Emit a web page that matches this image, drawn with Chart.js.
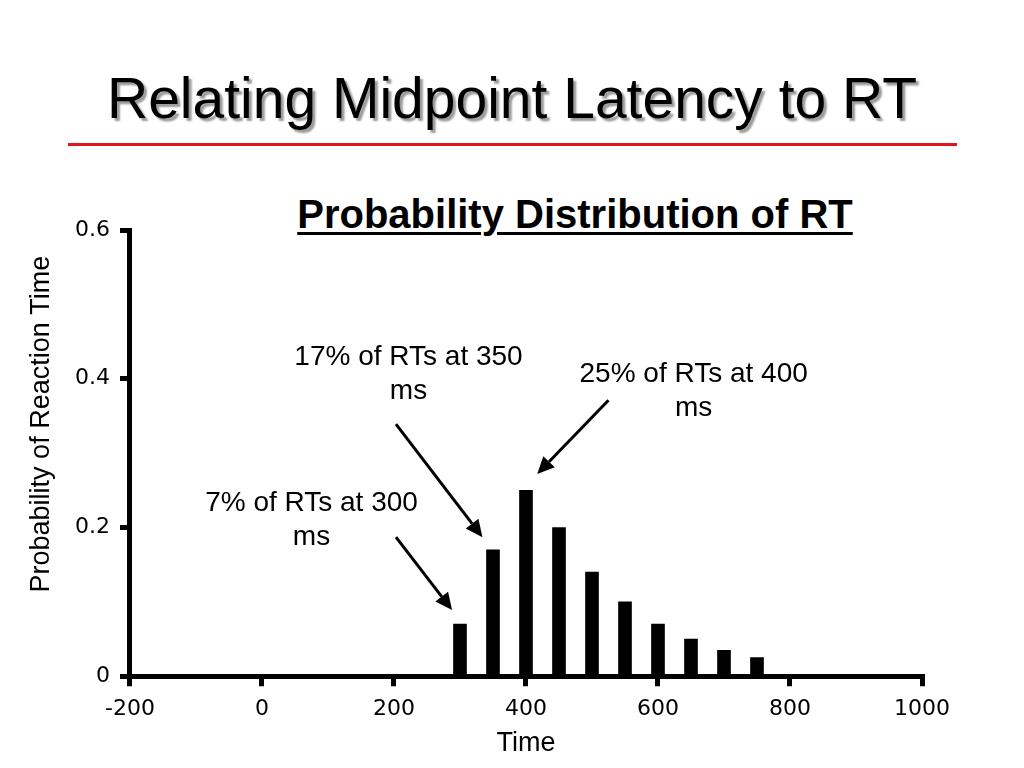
<!DOCTYPE html>
<html>
<head>
<meta charset="utf-8">
<script src="https://cdn.jsdelivr.net/npm/chart.js@4.4.0/dist/chart.umd.min.js"></script>
<style>
  html, body { margin: 0; padding: 0; background: #fff; }
  #wrap { position: relative; width: 1024px; height: 768px; overflow: hidden; }
  #slideTitle {
    position: absolute; left: 0; width: 1024px; top: 70px;
    text-align: center; font-family: "Liberation Sans", Arial, sans-serif;
    font-size: 57px; line-height: 57px; color: #000;
    text-shadow: 3px 3px 2px #9a9a9a;
  }
  #redRule { position: absolute; left: 68px; top: 143px; width: 889px; height: 3px; background: #e3141c; }
  #chartTitle {
    position: absolute; left: 275px; width: 600px; top: 192px;
    text-align: center; font-family: "Liberation Sans", Arial, sans-serif;
    font-weight: bold; font-size: 40px; line-height: 44px; color: #000;
    text-decoration: underline; text-decoration-thickness: 3px; text-underline-offset: 4px;
  }
  canvas { position: absolute; left: 0; top: 0; }
</style>
</head>
<body>
<div id="wrap">
  <div id="slideTitle">Relating Midpoint Latency to RT</div>
  <div id="redRule"></div>
  <div id="chartTitle">Probability Distribution of RT</div>
  <canvas id="rtChart" width="1024" height="768"></canvas>
</div>
<script>
// reaction time bins (ms) and their probability
var rtTimes = [300, 350, 400, 450, 500, 550, 600, 650, 700, 750];
var rtProb = [0.07, 0.17, 0.25, 0.20, 0.14, 0.10, 0.07, 0.05, 0.035, 0.025];

// callout notes, placed in data units (time, probability)
var noteLines = [['7% of RTs at 300', 'ms'], ['17% of RTs at 350', 'ms'], ['25% of RTs at 400', 'ms']];
var noteAt = [[75, 0.233], [222, 0.429], [654, 0.406]];
var arrowFrom = [[203, 0.187], [203, 0.339], [525, 0.371]];
var arrowTo = [[288, 0.089], [334, 0.187], [417, 0.272]];

var yTitle = 'Probability of Reaction Time';
var fontArial = '"Liberation Sans", Arial, sans-serif';
var fontTicks = '"DejaVu Sans", Verdana, sans-serif';

var calloutPlugin = {
    id: 'callouts',
    afterDatasetsDraw: function(chart) {
        var ctx = chart.ctx;
        var xs = chart.scales.x;
        var ys = chart.scales.y;
        var area = chart.chartArea;
        ctx.save();
        ctx.fillStyle = '#000';
        ctx.strokeStyle = '#000';
        ctx.font = '28px ' + fontArial;
        ctx.textAlign = 'center';
        ctx.textBaseline = 'middle';
        noteLines.forEach(function(lines, i) {
            var px = xs.getPixelForValue(noteAt[i][0]);
            var py = ys.getPixelForValue(noteAt[i][1]);
            lines.forEach(function(line, j) {
                ctx.fillText(line, px, py + j * 34);
            });
        });
        // arrows
        arrowFrom.forEach(function(from, i) {
            var x1 = xs.getPixelForValue(from[0]);
            var y1 = ys.getPixelForValue(from[1]);
            var x2 = xs.getPixelForValue(arrowTo[i][0]);
            var y2 = ys.getPixelForValue(arrowTo[i][1]);
            var ang = Math.atan2(y2 - y1, x2 - x1);
            var head = 17;
            var half = 8;
            ctx.lineWidth = 3;
            ctx.beginPath();
            ctx.moveTo(x1, y1);
            ctx.lineTo(x2 - Math.cos(ang) * head, y2 - Math.sin(ang) * head);
            ctx.stroke();
            ctx.beginPath();
            ctx.moveTo(x2, y2);
            ctx.lineTo(x2 - Math.cos(ang) * head - Math.sin(ang) * half, y2 - Math.sin(ang) * head + Math.cos(ang) * half);
            ctx.lineTo(x2 - Math.cos(ang) * head + Math.sin(ang) * half, y2 - Math.sin(ang) * head - Math.cos(ang) * half);
            ctx.closePath();
            ctx.fill();
        });
        // y axis title, sits a bit above the middle of the axis
        ctx.font = '27px ' + fontArial;
        ctx.translate(area.left - 88, (area.top + area.bottom) / 2 - 29);
        ctx.rotate(-Math.PI / 2);
        ctx.fillText(yTitle, 0, 0);
        ctx.restore();
    }
};

var data = {
    datasets: [{
        label: 'P(RT)',
        data: rtTimes.map(function(t, i) { return {x: t, y: rtProb[i]}; }),
        backgroundColor: '#000',
        borderWidth: 0,
        barThickness: 13
    }]
};

var config = {
    type: 'bar',
    data: data,
    plugins: [calloutPlugin],
    options: {
        responsive: false,
        animation: false,
        layout: {
            padding: {left: 65, right: 102, top: 230, bottom: 12.8}
        },
        plugins: {
            legend: {display: false},
            tooltip: {enabled: false},
            title: {display: false}
        },
        scales: {
            x: {
                type: 'linear',
                min: -200,
                max: 1000,
                offset: false,
                ticks: {
                    stepSize: 200,
                    color: '#000',
                    padding: 12,
                    font: {family: fontTicks, size: 22, lineHeight: 1},
                    maxRotation: 0,
                    callback: function(value) { return String(value); }
                },
                grid: {
                    offset: false,
                    drawOnChartArea: false,
                    drawTicks: true,
                    tickLength: 10,
                    lineWidth: 5,
                    color: '#000'
                },
                border: {display: true, width: 5, color: '#000'},
                title: {
                    display: true,
                    text: 'Time',
                    color: '#000',
                    font: {family: fontArial, size: 27, lineHeight: 0.85},
                    padding: {top: 0, bottom: 0}
                }
            },
            y: {
                min: 0,
                max: 0.6,
                ticks: {
                    stepSize: 0.2,
                    color: '#000',
                    padding: 10,
                    font: {family: fontTicks, size: 22}
                },
                grid: {
                    drawOnChartArea: false,
                    drawTicks: true,
                    tickLength: 10,
                    lineWidth: 5,
                    color: '#000'
                },
                border: {display: true, width: 5, color: '#000'}
            }
        }
    }
};

var rtChart = new Chart(document.getElementById('rtChart'), config);
</script>
</body>
</html>
